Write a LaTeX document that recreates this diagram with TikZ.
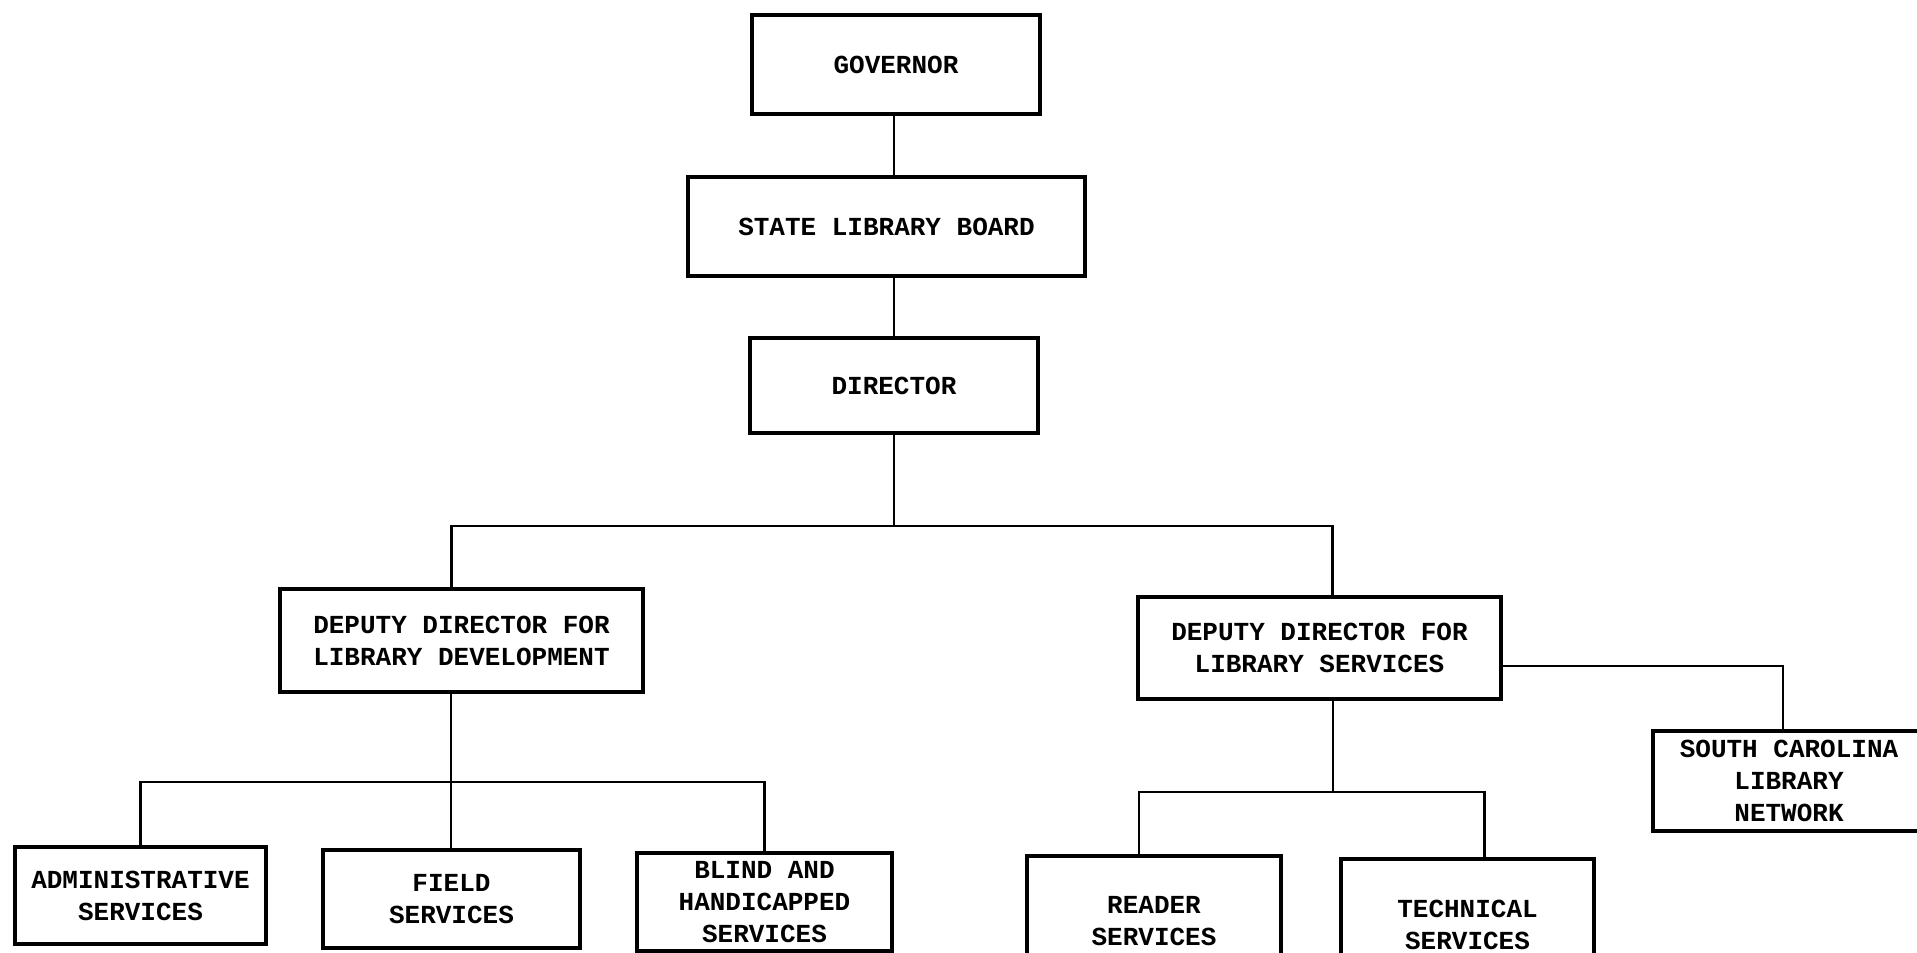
\documentclass[tikz,border=0pt]{standalone}
\usepackage{fontspec}
\newfontfamily\orgfont{Liberation Mono}
\usetikzlibrary{calc}

\tikzset{
	orgbox/.style={draw, line width=1.6pt, align=center, inner sep=0pt,
		font=\orgfont\bfseries\fontsize{13pt}{16pt}\selectfont},
	orgline/.style={line width=1.4pt}
}

\begin{document}
\begin{tikzpicture}[x=0.5pt, y=-0.5pt]
				\useasboundingbox (0,0) rectangle (1917,953);
				
				\node[orgbox, minimum width=144pt, minimum height=49.5pt] (gov) at (896,64.5) {GOVERNOR};
				\node[orgbox, minimum width=198.5pt, minimum height=49.5pt] (board) at (886.5,226.5) {STATE LIBRARY BOARD};
				\node[orgbox, minimum width=144pt, minimum height=47.5pt] (dir) at (894,385.5) {DIRECTOR};
				
				\node[orgbox, minimum width=181.5pt, minimum height=51.5pt] (ddld) at (461.5,640.5) {DEPUTY DIRECTOR FOR\\LIBRARY DEVELOPMENT};
				\node[orgbox, minimum width=181.5pt, minimum height=51pt] (ddls) at (1319.5,648) {DEPUTY DIRECTOR FOR\\LIBRARY SERVICES};
				\node[orgbox, minimum width=136pt, minimum height=50pt] (scln) at (1789,781) {SOUTH CAROLINA\\LIBRARY\\NETWORK};
				
				\node[orgbox, minimum width=125.5pt, minimum height=48.5pt] (admin) at (140.5,895.5) {ADMINISTRATIVE\\SERVICES};
				\node[orgbox, minimum width=128.5pt, minimum height=49pt] (field) at (451.5,899) {FIELD\\SERVICES};
				\node[orgbox, minimum width=127.5pt, minimum height=49pt] (blind) at (764.5,902) {BLIND AND\\HANDICAPPED\\SERVICES};
				\node[orgbox, minimum width=127pt, minimum height=65pt] (reader) at (1154,921) {READER\\SERVICES};
				\node[orgbox, minimum width=126.5pt, minimum height=65.5pt] (tech) at (1467.5,924.5) {TECHNICAL\\SERVICES};
				
				% joints of the tree
				\coordinate (dirjoin) at (894,526);
				\coordinate (devjoin) at (451,782);
				\coordinate (servjoin) at (1333,792);
				
				\draw[orgline] (gov.south -| dir.north) -- (dir.north |- board.north);
				\draw[orgline] (board.south -| dir.north) -- (dir.north);
				\draw[orgline] (dir.south) -- (dirjoin);
				\draw[orgline] ($(ddld.north)+(-10,0)$) |- (dirjoin) -| ($(ddls.north)+(13,0)$);
				
				\draw[orgline] (devjoin |- ddld.south) -- (devjoin |- field.north);
				\draw[orgline] (admin.north) |- (devjoin) -| (blind.north);
				
				\draw[orgline] (servjoin |- ddls.south) -- (servjoin);
				\draw[orgline] ($(reader.north)+(-15,0)$) |- (servjoin) -| ($(tech.north)+(17,0)$);
				\draw[orgline] ($(ddls.east)+(0,18)$) -| ($(scln.north)+(-6,0)$);
			\end{tikzpicture}
\end{document}
